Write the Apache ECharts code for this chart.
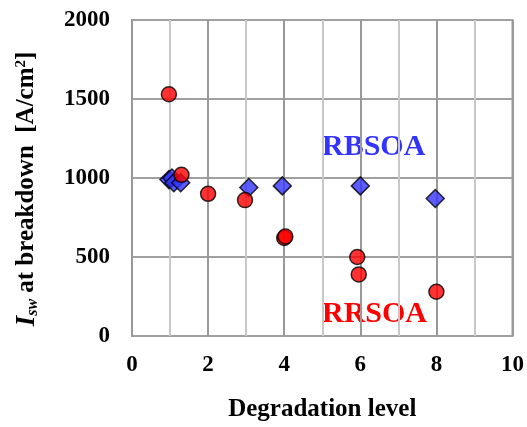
<!DOCTYPE html>
<html>
<head>
<meta charset="utf-8">
<script src="https://cdn.jsdelivr.net/npm/echarts@6/dist/echarts.min.js"></script>
<style>
  html, body { margin: 0; padding: 0; background: #fff; }
  #chart { width: 527px; height: 427px; }
</style>
</head>
<body>
<div id="chart"></div>
<script>
// Breakdown current density vs. degradation level, two SOA test types
const rbsoaLevel = [0.97, 1.05, 1.1, 1.28, 3.07, 3.95, 6.0, 7.97];
const rbsoaIsw   = [990, 1000, 970, 970, 940, 950, 950, 870];

const rrsoaLevel = [0.97, 1.3, 2.0, 2.97, 4.0, 4.03, 5.92, 5.96, 8.0];
const rrsoaIsw   = [1530, 1020, 900, 860, 620, 630, 500, 390, 280];

const xTicks = [0, 2, 4, 6, 8, 10];
const yTicks = [0, 500, 1000, 1500, 2000];

const pairs = (xs, ys) => xs.map((x, i) => [x, ys[i]]);

const serif = '"Liberation Serif", "Times New Roman", serif';
const chart = echarts.init(document.getElementById('chart'));

chart.setOption({
  animation: false,
  backgroundColor: '#fff',
  grid: {
    left: 132, right: 14, top: 20, bottom: 87,
    show: true, borderColor: '#999', borderWidth: 2, backgroundColor: 'transparent'
  },
  xAxis: {
    type: 'value', min: 0, max: 10, interval: 1,
    axisLine: { show: false },
    axisTick: { show: false },
    splitLine: { show: true, lineStyle: { color: ['#999', '#c8c8c8'], width: 2 } },
    axisLabel: {
      margin: 18,
      fontFamily: serif, fontWeight: 'bold', fontSize: 23, color: '#000',
      formatter: v => (xTicks.includes(v) ? String(v) : '')
    },
    name: 'Degradation level',
    nameLocation: 'middle',
    nameGap: 61,
    nameTextStyle: { fontFamily: serif, fontWeight: 'bold', fontSize: 25, color: '#000' }
  },
  yAxis: {
    type: 'value', min: 0, max: 2000, interval: 500,
    axisLine: { show: false },
    axisTick: { show: false },
    splitLine: { show: true, lineStyle: { color: '#a0a0a0', width: 2 } },
    axisLabel: {
      margin: 22,
      fontFamily: serif, fontWeight: 'bold', fontSize: 23, color: '#000',
      formatter: v => (yTicks.includes(v) ? String(v) : '')
    }
  },
  graphic: [
    {
      // rotated y-axis title with italic subscript and superscript
      type: 'text', x: 27, y: 189, rotation: Math.PI / 2,
      style: {
        text: '{i|I}{sub|sw}{t| at breakdown  [A/cm}{sup|2}{t|]}',
        align: 'center', verticalAlign: 'middle',
        rich: {
          i: { fontFamily: serif, fontWeight: 'bold', fontStyle: 'italic', fontSize: 27, fill: '#000' },
          sub: { fontFamily: serif, fontWeight: 'bold', fontStyle: 'italic', fontSize: 16, fill: '#000', padding: [11, 0, 0, 0] },
          t: { fontFamily: serif, fontWeight: 'bold', fontSize: 25, fill: '#000' },
          sup: { fontFamily: serif, fontWeight: 'bold', fontSize: 15, fill: '#000', padding: [0, 0, 11, 0] }
        }
      }
    },
    {
      type: 'text', left: 322, top: 132,
      style: { text: 'RBSOA', fill: '#3333ff', font: 'bold 30px ' + serif }
    },
    {
      type: 'text', left: 322, top: 299,
      style: { text: 'RRSOA', fill: '#ff0000', font: 'bold 30px ' + serif }
    }
  ],
  series: [
    {
      name: 'RBSOA', type: 'scatter', symbol: 'diamond', symbolSize: [18, 18],
      itemStyle: { color: '#3333ff', borderColor: '#000', borderWidth: 1.5 },
      data: pairs(rbsoaLevel, rbsoaIsw), z: 3
    },
    {
      name: 'RRSOA', type: 'scatter', symbol: 'circle', symbolSize: 15,
      itemStyle: { color: '#ff0000', borderColor: '#000', borderWidth: 1.5 },
      data: pairs(rrsoaLevel, rrsoaIsw), z: 4
    }
  ]
});
</script>
</body>
</html>
